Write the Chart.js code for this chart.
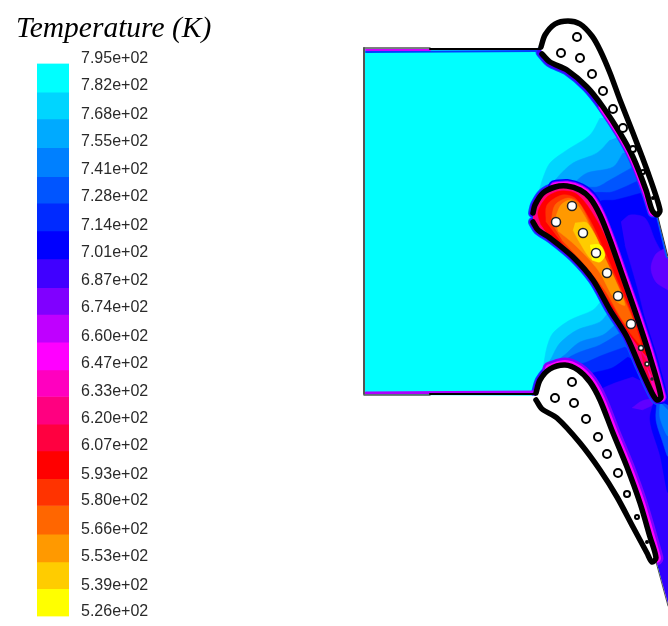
<!DOCTYPE html>
<html>
<head>
<meta charset="utf-8">
<title>Temperature (K)</title>
<script src="https://cdn.jsdelivr.net/npm/chart.js@4/dist/chart.umd.min.js"></script>
<style>
html,body{margin:0;padding:0;background:#fff;width:668px;height:626px;overflow:hidden}
canvas{position:absolute;top:0}
#field{left:0}
#bar{left:16px}
</style>
</head>
<body>
<canvas id="field" width="668" height="626"></canvas>
<canvas id="bar" width="200" height="626"></canvas>
<script>
// Colour bar: contour levels (K), band edges (K) and band colours, top to bottom
const tickLevels = [795,782,768,755,741,728,714,701,687,674,660,647,633,620,607,593,580,566,553,539,526];
const bandEdges = [795,781,768,754,740,727,713.5,700,686,673,659.5,646,633,619.5,606.5,593,580,566,552.5,539.5,526];
const bandColors = ['#00ffff','#00d5ff','#00aaff','#0080ff','#0055ff','#002aff','#0000ff','#4000ff','#8000ff','#bf00ff','#ff00ff','#ff00bf','#ff0080','#ff0040','#ff0000','#ff3300','#ff6600','#ff9900','#ffcc00','#ffff00'];

// Geometry in picture units (x, y)
const domain = [[364,49],[668,49],[668,620],[364,394]];

// contours in the passage above the middle blade
const upper1 = [[600,118],[590,135],[567,150],[550,163],[543,178],[538,195],[533,212],[560,212],[600,262],[640,350],[657,398],[668,425],[668,120]];
const upper2 = [[610,140],[597,153],[573,163],[557,178],[552,188],[575,200],[605,262],[640,350],[657,398],[668,425],[668,120]];
const upper3 = [[623,153],[613,167],[587,173],[575,182],[568,188],[590,210],[612,270],[640,350],[657,398],[668,425],[668,150]];
const upper4 = [[633,167],[610,180],[597,187],[580,188],[595,212],[615,275],[640,350],[657,398],[668,425],[668,160]];
const upper5 = [[640,180],[612,192],[592,194],[600,215],[618,280],[642,350],[657,398],[668,425],[668,175]];
const upper6 = [[645,192],[615,200],[600,202],[608,225],[622,280],[645,350],[657,398],[668,425],[668,190]];
const upper7 = [[621,222],[630,215],[645,218],[655,240],[668,268],[668,402],[662,400],[650,340],[638,290],[625,245]];
const upperPatch = [[668,247],[656,254],[651,268],[656,282],[668,290]];

// contours in the passage below the middle blade
const lower1 = [[602,300],[593,310],[570,320],[553,333],[547,347],[543,367],[537,383],[536,394],[600,470],[656,560],[668,605],[668,425],[657,398],[640,350],[620,320]];
const lower2 = [[608,313],[600,322],[577,330],[560,343],[552,357],[547,370],[600,470],[656,560],[668,605],[668,425],[657,398],[640,350]];
const lower3 = [[615,325],[603,335],[580,342],[567,353],[557,364],[600,470],[656,560],[668,605],[668,425],[657,398],[640,350]];
const lower4 = [[620,333],[600,345],[580,352],[568,358],[562,365],[600,470],[656,560],[668,605],[668,425],[657,398],[640,350]];
const lower5 = [[625,347],[603,355],[587,362],[577,367],[600,470],[656,560],[668,605],[668,425],[657,398],[642,355]];
const lower6 = [[628,357],[612,368],[593,373],[585,378],[600,470],[656,560],[668,605],[668,425],[657,398],[645,365]];
const lower7 = [[633,377],[610,385],[600,392],[610,470],[656,560],[668,605],[668,480],[655,400],[650,385]];
const lowerPatch = [[632,408],[642,401],[655,399],[654,404],[642,410]];
const wake1 = [[655,398],[650,420],[660,455],[668,492],[668,400]];
const wake2 = [[657,400],[656,420],[662,440],[668,456],[668,405]];
const wake3 = [[660,402],[660,418],[668,436],[668,410]];

// blades: outlines start and end at the small gap on the leading edge
const upperBlade = [[541,47],[545,35],[555,24],[568,21],[580,24],[592,36],[600,50],[610,73],[620,100],[633,133],[647,170],[660,210],[657,215],[652,210],[646,190],[633,157],[620,133],[603,107],[587,87],[567,70],[550,62],[542,54]];
const middleBlade = [[533,213],[535,205],[543,193],[555,187],[567,186],[580,190],[590,198],[600,215],[610,240],[623,277],[637,317],[650,357],[661,397],[657,400],[652,393],[640,367],[627,337],[610,310],[593,280],[573,257],[550,238],[538,230],[533,222]];
const lowerBlade = [[536,393],[540,380],[550,369],[565,365],[578,370],[590,382],[600,400],[613,433],[627,467],[640,503],[650,537],[656,558],[652,562],[647,553],[633,527],[617,497],[600,470],[580,443],[557,418],[542,409],[536,400]];

// rims next to the blade walls
const upperRimBlue = [[541,52],[550,62],[567,70],[587,87],[603,107],[620,133],[633,157],[646,190],[653,212]];
const upperRimHot = [[603,107],[620,133],[633,157],[646,190],[653,212]];
const middleRimTop = [[555,187],[567,186],[580,190],[590,198],[600,215],[610,240],[623,277],[637,317],[650,357],[661,397]];
const lowerRimTop = [[550,369],[565,365],[578,370],[590,382],[600,400],[613,433],[627,467],[640,503],[650,537],[656,558]];
const edgeBlue = [[658,214],[668,256]];

// temperature zones inside the middle blade
const hot1 = [[541,225],[538,212],[547,197],[560,191],[575,193],[587,205],[603,232],[616,265],[628,300],[640,335],[647,356],[632,338],[612,308],[592,278],[570,253],[548,235]];
const hot2 = [[546,222],[547,205],[562,195],[575,198],[590,220],[604,250],[617,280],[630,310],[641,345],[628,330],[610,302],[590,272],[565,247]];
const hot3 = [[551,222],[555,205],[568,198],[579,203],[592,228],[608,265],[622,295],[634,325],[626,325],[606,292],[585,265],[562,240]];
const hot4 = [[555,219],[561,205],[572,200],[584,215],[597,242],[613,275],[625,305],[615,300],[598,270],[575,245],[558,231]];
const hot5 = [[575,223],[587,223],[602,250],[602,260],[592,260],[580,243],[573,230]];
const hot6 = [[590,245],[600,245],[605,255],[600,262],[592,260]];
const tailRed = [[641,352],[647,362],[653,380],[656,393],[645,372]];
const tailPink = [[647,368],[652,378],[658,396],[654,392]];

// white outside the flow domain
const outsideTop = [[364,0],[668,0],[668,257],[657,213],[600,60],[540,47],[364,47]];
const outsideBottom = [[364,395],[536,396],[560,410],[610,470],[650,550],[656,562],[668,605],[668,626],[364,626]];

// walls
const wallLeft = [[364,48],[364,394]];
const topThin = [[364,48],[430,48]];
const topThick = [[430,49],[541,49]];
const topHot = [[366,50],[430,50]];
const topBlue = [[366,52],[536,51]];
const botThin = [[364,395],[430,395]];
const botThick = [[430,394],[537,394]];
const botHot = [[366,393],[536,392]];
const edgeUpper = [[657,213],[668,257]];
const edgeLower = [[656,562],[668,606]];

// cooling holes
const upperHoles = [[577,37],[561,53],[580,58],[592,74],[603,91],[613,109],[623,128],[633,149],[643,172],[653,198]];
const upperHoleSizes = [4,4,4,4,4,4,4,3,2,1];
const middleHoles = [[572,206],[556,222],[583,233],[596,253],[607,273],[618,296],[631,324],[641,348],[647,364],[652,379]];
const middleHoleSizes = [4.5,4.5,4.5,4.5,4.5,4.5,4.5,2.5,2,1];
const lowerHoles = [[572,382],[555,398],[574,403],[586,419],[598,437],[607,454],[618,473],[627,494],[637,517],[647,542]];
const lowerHoleSizes = [4,4,4,4,4,4,4,3,2,1];

const pts = a => a.map(([x,y]) => ({x,y}));
let layer = 0;
const datasets = [];
function area(a, color, tension){
  datasets.push({data:pts(a),showLine:true,fill:'shape',backgroundColor:color,borderColor:color,borderWidth:0.5,pointRadius:0,tension:tension===undefined?0.3:tension,order:--layer});
}
function line(a, color, width, tension){
  datasets.push({data:pts(a),showLine:true,fill:false,borderColor:color,borderWidth:width,pointRadius:0,tension:tension===undefined?0.3:tension,borderCapStyle:'round',borderJoinStyle:'round',order:--layer});
}
function blade(a, fillColor){
  datasets.push({data:pts(a),showLine:true,fill:'shape',backgroundColor:fillColor,borderColor:'#000',borderWidth:0,pointRadius:0,tension:0.3,order:--layer});
}
function outline(a){ line(a,'#000',5.5); }
function holes(a, sizes, width, color){
  datasets.push({data:pts(a),showLine:false,pointRadius:sizes,pointBackgroundColor:'#fff',pointBorderColor:color,pointBorderWidth:width,order:--layer});
}

area(domain,'#00ffff',0);
area(upper1,bandColors[1]); area(upper2,bandColors[2]); area(upper3,bandColors[3]);
area(upper4,bandColors[4]); area(upper5,bandColors[5]); area(upper6,bandColors[6]);
area(upper7,'#3000ff'); area(upperPatch,'#6000ff');
area(lower1,bandColors[1]); area(lower2,bandColors[2]); area(lower3,bandColors[3]);
area(lower4,bandColors[4]); area(lower5,bandColors[5]); area(lower6,bandColors[6]);
area(lower7,'#3000ff'); area(lowerPatch,'#6000ff');
area(wake1,'#0000ff'); area(wake2,'#0055ff'); area(wake3,'#0080ff');
line(edgeBlue,'#0055ff',5,0);
// rims
line(middleBlade,'#0055ff',10);
line(middleBlade,'#4000ff',8);
line(middleRimTop,'#0000ff',14);
line(middleRimTop,'#8000ff',11);
line(middleRimTop,'#ff00ff',9);
line(upperRimBlue,'#0055ff',11);
line(upperRimBlue,'#4000ff',9);
line(upperRimHot,'#8000ff',10);
line(upperRimHot,'#ff00ff',8);
line(lowerBlade,'#0055ff',10);
line(lowerBlade,'#4000ff',8);
line(lowerRimTop,'#8000ff',15);
line(lowerRimTop,'#ff00ff',10);
line(topBlue,'#0040ff',2,0);
line(topHot,'#d000ff',2,0);
line(botHot,'#b000ff',3,0);
// outside
area(outsideTop,'#fff',0);
area(outsideBottom,'#fff',0);
line(edgeUpper,'#333',1,0);
line(edgeLower,'#555',1,0);
line(wallLeft,'#555',2,0);
line(topThin,'#555',1.5,0);
line(topThick,'#000',2,0);
line(botThin,'#555',1.5,0);
line(botThick,'#000',2,0);
// blades
blade(upperBlade,'#fff');
blade(lowerBlade,'#fff');
blade(middleBlade,'#ff0080');
area(hot1,'#ff0000'); area(hot2,'#ff3300'); area(hot3,'#ff6600');
area(hot4,'#ff9900'); area(hot5,'#ffcc00'); area(hot6,'#ffff00');
area(tailRed,'#ff0040'); area(tailPink,'#ff00bf');
outline(upperBlade); outline(middleBlade); outline(lowerBlade);
holes(upperHoles,upperHoleSizes,2,'#000');
holes(lowerHoles,lowerHoleSizes,2,'#000');
holes(middleHoles,middleHoleSizes,1.5,'#222');

new Chart(document.getElementById('field'),{
  type:'scatter',
  data:{datasets},
  options:{
    responsive:false,animation:false,
    layout:{padding:0,autoPadding:false},
    plugins:{legend:{display:false},tooltip:{enabled:false},title:{display:false}},
    scales:{
      x:{type:'linear',min:0,max:668,display:false},
      y:{type:'linear',min:0,max:626,reverse:true,display:false}
    }
  }
});

// Colour bar chart
const barWidth = 32, leftGap = 21, canvasWidth = 200;
const k = 553/269;
const barSets = bandColors.map((c,i)=>({
  data:[[bandEdges[i+1],bandEdges[i]]],
  backgroundColor:c,borderWidth:0,barPercentage:1,categoryPercentage:1,grouped:false,yAxisID:'y'
}));
barSets.push({data:[null],yAxisID:'yLabels',backgroundColor:'transparent'});
new Chart(document.getElementById('bar'),{
  type:'bar',
  data:{labels:['T'],datasets:barSets},
  options:{
    responsive:false,animation:false,
    layout:{padding:{top:0,bottom:9.5,left:0,right:0},autoPadding:false},
    plugins:{
      legend:{display:false},tooltip:{enabled:false},
      title:{display:true,text:'Temperature (K)',align:'start',color:'#000',
        font:{family:'"Liberation Serif"',size:29.5,style:'italic',weight:'normal',lineHeight:1.2},
        padding:{top:12,bottom:16.1}}
    },
    scales:{
      x:{display:false},
      y:{position:'left',min:526,max:795,grid:{display:false},border:{display:false},
         ticks:{display:false},afterFit(s){s.width=leftGap;s.paddingTop=0;s.paddingBottom=0;}},
      yLabels:{position:'right',min:526-4.5/k,max:795-4.5/k,grid:{display:false,drawTicks:false},border:{display:false},
         afterBuildTicks(s){s.ticks=tickLevels.map(v=>({value:v}));},
         afterFit(s){s.width=canvasWidth-leftGap-barWidth;s.paddingTop=0;s.paddingBottom=0;},
         ticks:{autoSkip:false,padding:12,color:'#2a2a2a',
           font:{family:'"Liberation Sans"',size:16},
           callback(v){return v.toExponential(2).replace('e+2','e+02');}}}
    }
  }
});
</script>
</body>
</html>
